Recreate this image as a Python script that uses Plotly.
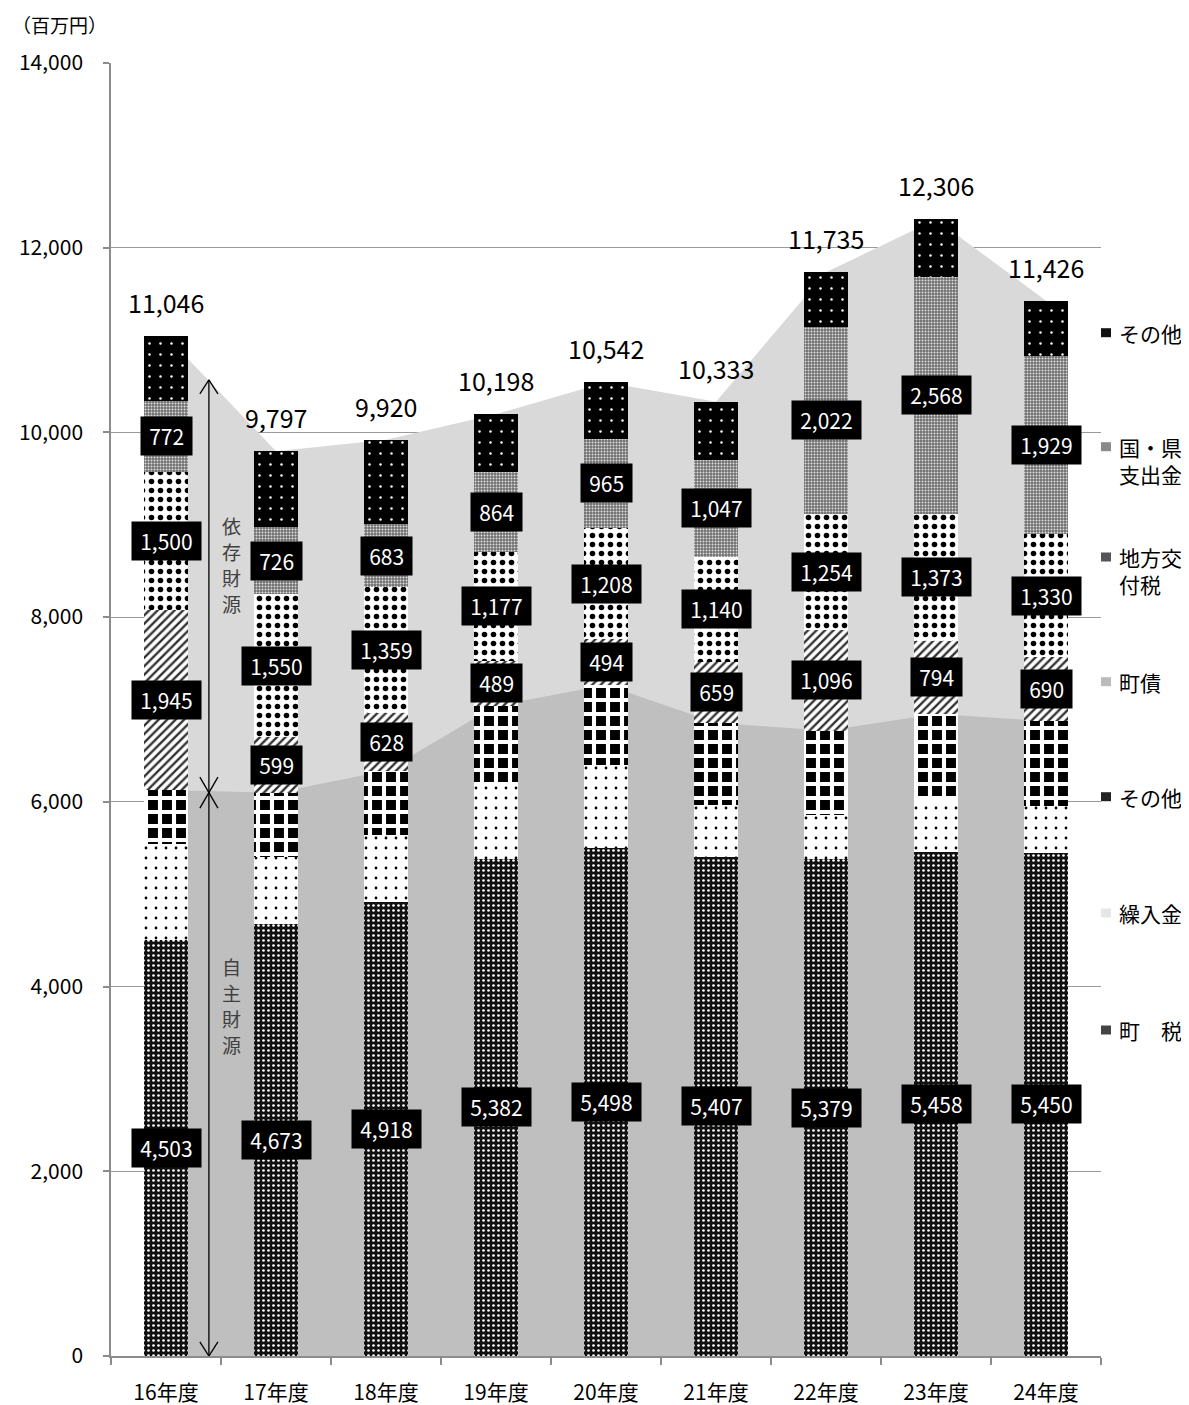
import plotly.graph_objects as go

# ---- data ----
categories = ["16年度", "17年度", "18年度", "19年度", "20年度", "21年度", "22年度", "23年度", "24年度"]
town_tax = [4503, 4673, 4918, 5382, 5498, 5407, 5379, 5458, 5450]          # 町税
transfer_in = [1037, 729, 721, 801, 902, 556, 476, 563, 505]             # 繰入金
other_own = [588, 697, 698, 858, 865, 894, 915, 930, 920]                # その他(自主)
town_bond = [1945, 599, 628, 489, 494, 659, 1096, 794, 690]              # 町債
local_alloc = [1500, 1550, 1359, 1177, 1208, 1140, 1254, 1373, 1330]     # 地方交付税
pref_national = [772, 726, 683, 864, 965, 1047, 2022, 2568, 1929]        # 国・県支出金
other_dep = [701, 823, 913, 627, 610, 630, 593, 620, 602]                # その他(依存)
totals = [11046, 9797, 9920, 10198, 10542, 10333, 11735, 12306, 11426]
y_ticks = [0, 2000, 4000, 6000, 8000, 10000, 12000, 14000]

FONT = "Noto Sans CJK JP"
own_total = [a + b + c for a, b, c in zip(town_tax, transfer_in, other_own)]

fig = go.Figure()

# background areas (drawn on base axes, below the bars)
fig.add_trace(go.Scatter(x=categories, y=totals, mode="lines", line=dict(width=0),
                         fill="tozeroy", fillcolor="#d9d9d9", hoverinfo="skip", showlegend=False))
fig.add_trace(go.Scatter(x=categories, y=own_total, mode="lines", line=dict(width=0),
                         fill="tozeroy", fillcolor="#bfbfbf", hoverinfo="skip", showlegend=False))

series = [
    ("町　税", town_tax, dict(shape=".", bgcolor="#111111", fgcolor="#ffffff", size=5, solidity=0.22)),
    ("繰入金", transfer_in, dict(shape=".", bgcolor="#ffffff", fgcolor="#000000", size=10, solidity=0.06)),
    ("その他", other_own, dict(shape="+", bgcolor="#000000", fgcolor="#ffffff", size=14, solidity=0.5)),
    ("町債", town_bond, dict(shape="/", bgcolor="#ffffff", fgcolor="#333333", size=6, solidity=0.4)),
    ("地方交付税", local_alloc, dict(shape=".", bgcolor="#ffffff", fgcolor="#000000", size=9, solidity=0.3)),
    ("国・県支出金", pref_national, dict(shape=".", bgcolor="#6e6e6e", fgcolor="#e0e0e0", size=3, solidity=0.35)),
    ("その他", other_dep, dict(shape=".", bgcolor="#000000", fgcolor="#ffffff", size=11, solidity=0.04)),
]
for name, vals, pat in series:
    pat = dict(pat, fillmode="replace")
    fig.add_trace(go.Bar(x=categories, y=vals, name=name, width=0.4, xaxis="x2", yaxis="y2",
                         marker=dict(color=pat["bgcolor"], pattern=pat, line=dict(width=0)),
                         showlegend=False))

annotations = []
# value labels (black boxes)
labelled = [(town_tax, 0), (town_bond, 3), (local_alloc, 4), (pref_national, 5)]
stack_vals = [s[1] for s in series]
for vals, idx in labelled:
    for i, c in enumerate(categories):
        base = sum(stack_vals[k][i] for k in range(idx))
        annotations.append(dict(x=c, y=base + vals[i] / 2, xref="x", yref="y",
                                text="\u2009" + f"{vals[i]:,}" + "\u2009", showarrow=False,
                                font=dict(family=FONT, size=21, color="white"),
                                bgcolor="black", borderpad=4))
# totals
for i, c in enumerate(categories):
    annotations.append(dict(x=c, y=totals[i], xref="x", yref="y", text=f"{totals[i]:,}",
                            showarrow=False, yshift=34, font=dict(family=FONT, size=25, color="black")))

# unit label
annotations.append(dict(x=(10 - 111) / 990, y=(1356 - 25) / 1293, xref="paper", yref="paper",
                        xanchor="left", yanchor="middle",
                        text="（百万円）", showarrow=False, font=dict(family=FONT, size=19, color="black")))

# vertical texts, one character per line
ARROW_X = 0.39
TEXT_X = (231 - 166) / 110
for word, first_px in [("依存財源", 525), ("自主財源", 966)]:
    for k, ch in enumerate(word):
        annotations.append(dict(x=TEXT_X, y=(1356 - (first_px + 26 * k)) / 1293, xref="x", yref="paper",
                                text=ch, showarrow=False, yanchor="middle",
                                font=dict(family=FONT, size=19, color="#404040")))

# legend (text + small marker squares)
legend_items = [
    ("その他", 332.7, 1, "#111111"),
    ("国・県<br>支出金", 446.7, 2, "#8a8a8a"),
    ("地方交<br>付税", 557.0, 2, "#555555"),
    ("町債", 681.7, 1, "#bbbbbb"),
    ("その他", 796.7, 1, "#222222"),
    ("繰入金", 913.0, 1, "#e6e6e6"),
    ("町　税", 1030.0, 1, "#444444"),
]
shapes = []
for text, ypx, nlines, col in legend_items:
    center = ypx + (nlines - 1) * 27.3 / 2
    annotations.append(dict(x=(1117 - 111) / 990, y=(1356 - center) / 1293, xref="paper", yref="paper",
                            xanchor="left", yanchor="middle", align="left", text=text, showarrow=False,
                            font=dict(family=FONT, size=21, color="black")))
    shapes.append(dict(type="rect", xref="paper", yref="paper",
                       x0=(1101 - 111) / 990, x1=(1111 - 111) / 990,
                       y0=(1356 - ypx - 4.5) / 1293, y1=(1356 - ypx + 4.5) / 1293,
                       fillcolor=col, line=dict(width=0)))

# arrows (依存財源 / 自主財源)
TOP, MID = 10570, 6100
hx, hy, hm = 0.082, 152, 168
line_style = dict(color="black", width=1.3)
for x0, y0, x1, y1 in [
    (ARROW_X, 0, ARROW_X, TOP),
    (ARROW_X - hx, TOP - hy, ARROW_X, TOP), (ARROW_X + hx, TOP - hy, ARROW_X, TOP),
    (ARROW_X - hx, hy, ARROW_X, 0), (ARROW_X + hx, hy, ARROW_X, 0),
    (ARROW_X - hx, MID + hm, ARROW_X + hx, MID - hm), (ARROW_X + hx, MID + hm, ARROW_X - hx, MID - hm),
]:
    shapes.append(dict(type="line", xref="x", yref="y", x0=x0, y0=y0, x1=x1, y1=y1, line=line_style))

# the page body has an 8px margin, so the figure is sized to 1181x1397
fig.update_layout(
    width=1181, height=1397,
    margin=dict(l=103, r=88, t=55, b=49),
    paper_bgcolor="white", plot_bgcolor="white",
    barmode="stack", showlegend=False,
    font=dict(family=FONT, color="black"),
    xaxis=dict(type="category", categoryorder="array", categoryarray=categories, range=[-0.5, 8.5],
               showline=True, linecolor="#8c8c8c", linewidth=1.5, ticks="outside", tickson="boundaries",
               ticklen=7, tickcolor="#8c8c8c", tickwidth=1.5, showgrid=False,
               tickfont=dict(family=FONT, size=21, color="black"), ticklabelstandoff=17, automargin=False),
    yaxis=dict(range=[0, 14000], tickvals=y_ticks, tickformat=",", showline=True, linecolor="#8c8c8c",
               linewidth=1.5, ticks="outside", ticklen=6, tickcolor="#8c8c8c", tickwidth=1.5,
               showgrid=True, gridcolor="#9a9a9a", gridwidth=1.2, zeroline=False,
               tickfont=dict(family=FONT, size=21, color="black"), ticklabelstandoff=16, automargin=False),
    xaxis2=dict(type="category", categoryorder="array", categoryarray=categories, range=[-0.5, 8.5],
                overlaying="x", visible=False),
    yaxis2=dict(range=[0, 14000], overlaying="y", visible=False),
    annotations=annotations,
    shapes=shapes,
)

fig.write_html("out.html")
